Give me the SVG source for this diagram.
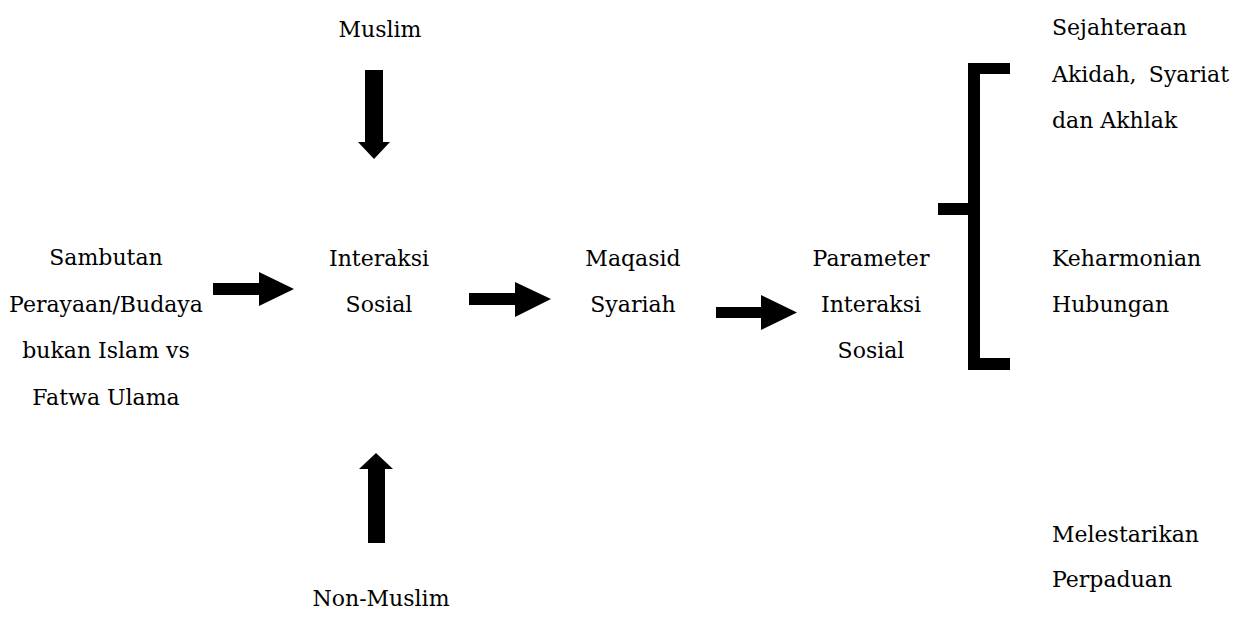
<svg xmlns="http://www.w3.org/2000/svg" width="1242" height="637" viewBox="0 0 1242 637">
<style>
text{font-family:'DejaVu Serif','Liberation Serif',serif;font-size:22px;fill:#000}
.c{text-anchor:middle}
.a{fill:#000;stroke:none}
</style>
<rect width="1242" height="637" fill="#fff"/>
<g id="connectors">
<polygon class="a" points="365,70 383,70 383,142 390,142 374,159 358,142 365,142"/>
<polygon class="a" points="368,543 385,543 385,469 393,469 376,453 359,469 368,469"/>
<polygon class="a" points="213,283 259,283 259,272 294,289 259,306 259,295 213,295"/>
<polygon class="a" points="469,293 515,293 515,282 551,299 515,317 515,305 469,305"/>
<polygon class="a" points="716,307 761,307 761,295 797,312.5 761,330 761,318 716,318"/>
<path class="a" d="M968,63 H1010 V74 H980 V358 H1010 V370 H968 V215 H938 V203 H968 Z"/>
</g>
<g id="muslim"><text class="c" x="380" y="37">Muslim</text></g>
<g id="non-muslim"><text class="c" x="381" y="606">Non-Muslim</text></g>
<g id="sambutan">
<text class="c" x="106" y="265">Sambutan</text>
<text class="c" x="106" y="312">Perayaan/Budaya</text>
<text class="c" x="106" y="358">bukan Islam vs</text>
<text class="c" x="106" y="405">Fatwa Ulama</text>
</g>
<g id="interaksi">
<text class="c" x="379" y="266">Interaksi</text>
<text class="c" x="379" y="312">Sosial</text>
</g>
<g id="maqasid">
<text class="c" x="633" y="266">Maqasid</text>
<text class="c" x="633" y="312">Syariah</text>
</g>
<g id="parameter">
<text class="c" x="871" y="266">Parameter</text>
<text class="c" x="871" y="312">Interaksi</text>
<text class="c" x="871" y="358">Sosial</text>
</g>
<g id="sejahteraan">
<text x="1052" y="35">Sejahteraan</text>
<text x="1052" y="82">Akidah,</text>
<text x="1229" y="82" text-anchor="end">Syariat</text>
<text x="1052" y="128">dan Akhlak</text>
</g>
<g id="keharmonian">
<text x="1052" y="266">Keharmonian</text>
<text x="1052" y="312">Hubungan</text>
</g>
<g id="melestarikan">
<text x="1052" y="542">Melestarikan</text>
<text x="1052" y="587">Perpaduan</text>
</g>
</svg>
